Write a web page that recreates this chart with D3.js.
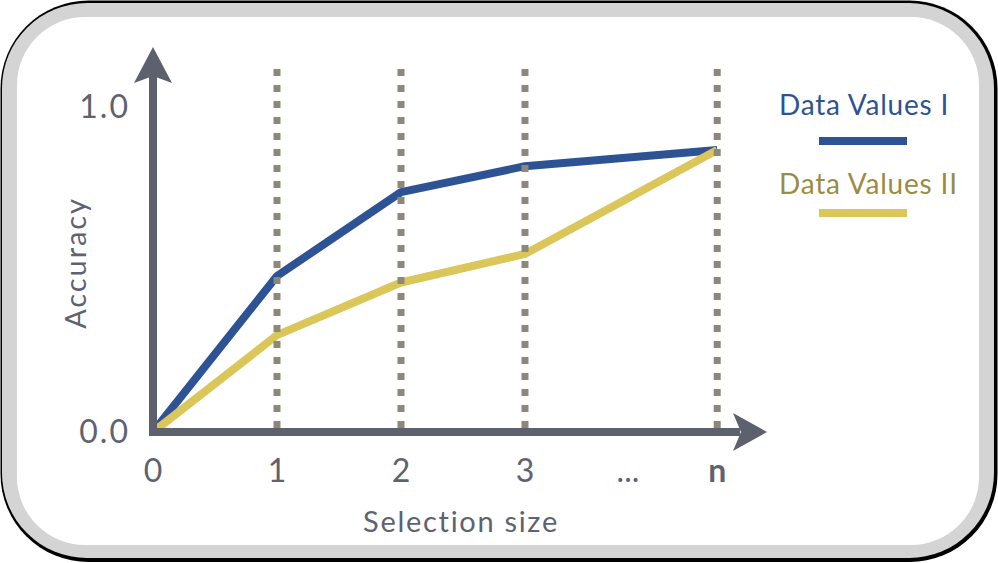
<!DOCTYPE html>
<html>
<head>
<meta charset="utf-8">
<script src="https://cdn.jsdelivr.net/npm/d3@7"></script>
<style>
html,body{margin:0;padding:0;background:#fff;}
svg{display:block;font-family:Futura,"Century Gothic",Lato,sans-serif;}
</style>
</head>
<body>
<svg id="chart" width="998" height="563"></svg>
<script>
// ---- data ----
const xLabels = ["0", "1", "2", "3", "...", "n"];
const xValues = [0, 1, 2, 3, 3.83, 4.55];        // position of each label along the x axis
const gridAt = ["1", "2", "3", "n"];
const seriesNames = ["Data Values I", "Data Values II"];
const series1 = [0, 0.48, 0.738, 0.818, 0.868];  // at 0,1,2,3,n
const series2 = [0, 0.298, 0.46, 0.548, 0.868];
const seriesX = ["0", "1", "2", "3", "n"];
const yTicks = [0, 1];
const colors = ["#2d5394", "#dbc65a"];
const legendTextColors = ["#2d5394", "#9c8b43"];

const svg = d3.select("#chart");

// frame
svg.append("rect").attr("x", 0.5).attr("y", 0.5).attr("width", 997).attr("height", 561.5).attr("rx", 88).attr("fill", "#000");
svg.append("rect").attr("x", 2).attr("y", 3).attr("width", 992).attr("height", 555).attr("rx", 85).attr("fill", "#d4d4d4");
svg.append("rect").attr("x", 17).attr("y", 17).attr("width", 962).attr("height", 528).attr("rx", 68).attr("fill", "#fff");

const xPos = d3.scaleOrdinal().domain(xLabels).range(xValues);
const x = d3.scaleLinear().domain([0, 1]).range([153, 277]);
const y = d3.scaleLinear().domain([0, 1]).range([432, 107]);
const px = l => x(xPos(l));

const axisColor = "#5d606d";
const textColor = "#5f626f";

// data lines
const line = d3.line().x(d => px(d[0])).y(d => y(d[1]));
[series1, series2].forEach((s, i) => {
  svg.append("path")
    .datum(seriesX.map((l, j) => [l, s[j]]))
    .attr("d", line)
    .attr("fill", "none")
    .attr("stroke", colors[i])
    .attr("stroke-width", 8)
    .attr("stroke-linejoin", "round");
});

// dotted grid (drawn on top)
svg.selectAll(".grid").data(gridAt).join("line")
  .attr("x1", d => px(d)).attr("x2", d => px(d))
  .attr("y1", y(0) - 4).attr("y2", 63)
  .attr("stroke", "#8e8976")
  .attr("stroke-width", 7)
  .attr("stroke-dasharray", "7 9");

// axes
svg.append("line").attr("x1", px("0")).attr("x2", px("0")).attr("y1", y(0) + 4).attr("y2", 75)
  .attr("stroke", axisColor).attr("stroke-width", 8);
svg.append("line").attr("x1", px("0") - 4).attr("x2", 740).attr("y1", y(0)).attr("y2", y(0))
  .attr("stroke", axisColor).attr("stroke-width", 8);
// arrowheads
const ax = px("0");
svg.append("path").attr("d", `M${ax},47 L${ax + 19},83 L${ax},76 L${ax - 19},83 Z`).attr("fill", axisColor);
const ay = y(0);
svg.append("path").attr("d", `M767,${ay} L733,${ay - 19} L741,${ay} L733,${ay + 19} Z`).attr("fill", axisColor);

// y tick labels
svg.selectAll(".ytick").data(yTicks).join("text")
  .attr("x", 130).attr("y", d => y(d))
  .attr("dy", "0.35em")
  .attr("text-anchor", "end")
  .attr("font-size", 32)
  .attr("letter-spacing", 2)
  .attr("fill", textColor)
  .text(d => d.toFixed(1));

// x tick labels
svg.selectAll(".xtick").data(xLabels).join("text")
  .attr("x", d => px(d)).attr("y", 482)
  .attr("text-anchor", "middle")
  .attr("font-size", 32)
  .attr("font-weight", d => d === "n" ? "bold" : "normal")
  .attr("fill", textColor)
  .text(d => d);

// axis titles
svg.append("text").attr("x", 461).attr("y", 532).attr("text-anchor", "middle")
  .attr("font-size", 29).attr("letter-spacing", 1.7).attr("fill", textColor).text("Selection size");
svg.append("text").attr("transform", "translate(86,263) rotate(-90)").attr("text-anchor", "middle")
  .attr("font-size", 29).attr("letter-spacing", 1.9).attr("fill", textColor).text("Accuracy");

// legend
const legY = [115, 194];
const lineY = [141, 213];
seriesNames.forEach((n, i) => {
  svg.append("text").attr("x", 779).attr("y", legY[i]).attr("font-size", 28)
    .attr("letter-spacing", 0.8)
    .attr("fill", legendTextColors[i]).text(n);
  svg.append("line").attr("x1", 819).attr("x2", 907).attr("y1", lineY[i]).attr("y2", lineY[i])
    .attr("stroke", colors[i]).attr("stroke-width", 8);
});
</script>
</body>
</html>
